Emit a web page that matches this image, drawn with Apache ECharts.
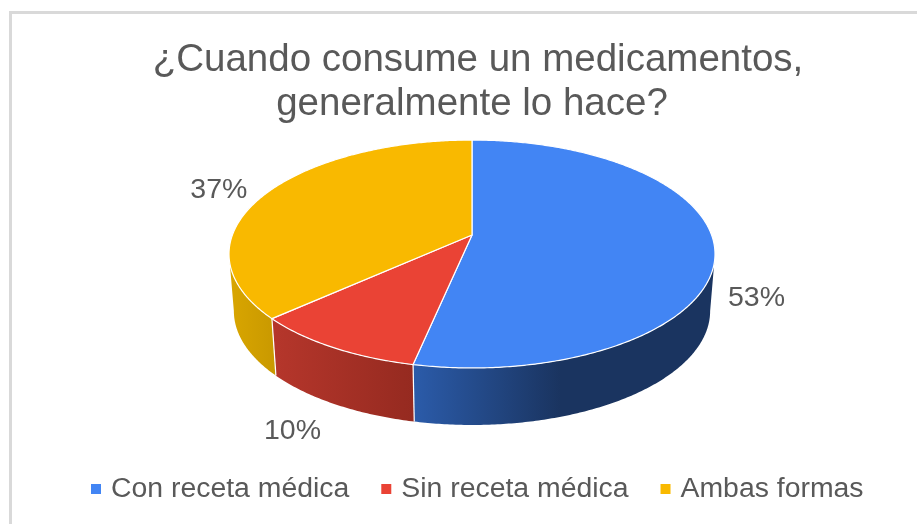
<!DOCTYPE html>
<html>
<head>
<meta charset="utf-8">
<style>html,body{margin:0;padding:0;background:#fff}#c{width:917px;height:524px}</style>
<script src="https://cdn.jsdelivr.net/npm/echarts@6/dist/echarts.min.js"></script>
</head>
<body>
<div id="c"></div>
<script>
const titleLines = ['¿Cuando consume un medicamentos,', 'generalmente lo hace?'];
const categories = ['Con receta médica', 'Sin receta médica', 'Ambas formas'];
const percentages = [53.3, 10, 36.7];

const titleCenters = [478, 472];
const titleTops = [38, 82];
const topColors = ['#4285f4', '#ea4335', '#f9b900'];
const sideGradients = [
  ['#2b5ba9', '#1a3460'],
  ['#b5362b', '#952a20'],
  ['#d8a500', '#c99900']
];
const sideGradientSpans = [[415, 560], [275, 415], [232, 275]];
const labelOffsets = [[42, 51], [-40, 84], [-48, -3]];

const APEX_X = 472, APEX_Y = 235, RX = 239.6, RY = 110.8, K = 1 / 6;
const ELLIPSE_CY = 254, BOTTOM_CY = 311, BOTTOM_SX = 0.98;
const TAU = Math.PI * 2;
const total = percentages.reduce((a, b) => a + b, 0);
const starts = percentages.map((_, i) => percentages.slice(0, i).reduce((a, b) => a + b, 0));

function rim(t, r) {
  const u = Math.sin(t) * r, v = -Math.cos(t) * r, w = 1 - K * v;
  return [APEX_X + RX * u / w, APEX_Y + RY * v / w];
}
function lower(p) {
  return [APEX_X + (p[0] - APEX_X) * BOTTOM_SX, BOTTOM_CY + (p[1] - ELLIPSE_CY)];
}
function arc(a0, a1) {
  const n = Math.max(2, Math.ceil((a1 - a0) / 0.01)), pts = [];
  for (let i = 0; i <= n; i++) pts.push(rim(a0 + (a1 - a0) * i / n, 1));
  return pts;
}
const VIS0 = Math.acos(-K), VIS1 = TAU - VIS0;

function renderSlice(i) {
  return function (params, api) {
    const value = api.value(0);
    const a0 = starts[i] / total * TAU, a1 = a0 + value / total * TAU;
    const children = [];
    const s0 = Math.max(a0, VIS0), s1 = Math.min(a1, VIS1);
    if (s1 > s0) {
      const upper = arc(s0, s1);
      const pts = upper.concat(upper.map(lower).reverse());
      const span = sideGradientSpans[i];
      children.push({
        type: 'polygon', z2: 1, shape: { points: pts },
        style: {
          fill: {
            type: 'linear', global: true, x: span[0], y: 0, x2: span[1], y2: 0,
            colorStops: [{ offset: 0, color: sideGradients[i][0] }, { offset: 1, color: sideGradients[i][1] }]
          }
        }
      });
    }
    const p = rim(a0, 1), q = lower(p);
    children.push({
      type: 'line', z2: 5, shape: { x1: p[0], y1: p[1], x2: q[0], y2: q[1] },
      style: { stroke: '#fff', lineWidth: 1.2 }
    });
    children.push({
      type: 'polygon', z2: 10, shape: { points: [[APEX_X, APEX_Y]].concat(arc(a0, a1)) },
      style: { fill: topColors[i], stroke: '#fff', lineWidth: 1.2, lineJoin: 'round' }
    });
    const mid = rim((a0 + a1) / 2, 1);
    children.push({
      type: 'text', z2: 20,
      style: {
        x: mid[0] + labelOffsets[i][0], y: mid[1] + labelOffsets[i][1],
        text: Math.round(value) + '%', align: 'center', verticalAlign: 'middle',
        fill: '#595959', font: '28.5px "Liberation Sans"'
      }
    });
    return { type: 'group', children };
  };
}

const chart = echarts.init(document.getElementById('c'), null, { renderer: 'canvas' });
chart.setOption({
  animation: false,
  backgroundColor: '#fff',
  title: titleLines.map((text, i) => ({
    text,
    left: titleCenters[i], top: titleTops[i], textAlign: 'center', padding: 0,
    textStyle: { color: '#595959', fontFamily: 'Liberation Sans', fontWeight: 'normal', fontSize: 38.5, lineHeight: 44 }
  })),
  legend: {
    data: categories,
    left: 91, top: 475, padding: 0,
    icon: 'rect', itemWidth: 10, itemHeight: 10, itemGap: 32,
    textStyle: { color: '#595959', fontFamily: 'Liberation Sans', fontSize: 28.4, padding: [0, 0, 0, 5] }
  },
  graphic: [{
    type: 'polyline', silent: true,
    shape: { points: [[10.5, 524], [10.5, 12.5], [917, 12.5]] },
    style: { stroke: '#d9d9d9', lineWidth: 3, fill: null }
  }],
  series: categories.map((name, i) => ({
    type: 'custom', name, coordinateSystem: 'none',
    itemStyle: { color: topColors[i] },
    renderItem: renderSlice(i),
    data: [[percentages[i]]]
  }))
});
</script>
</body>
</html>
